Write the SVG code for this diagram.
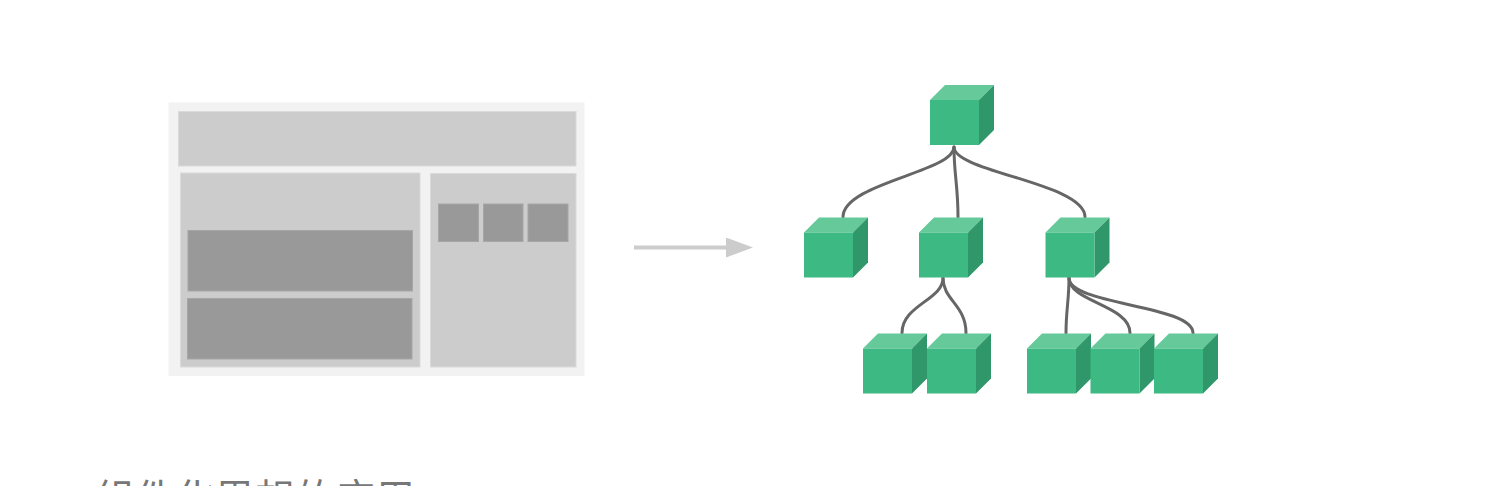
<svg xmlns="http://www.w3.org/2000/svg" width="1505" height="486" viewBox="0 0 1505 486">
<style>
.hdr{fill:#cccccc;stroke:#dadada;stroke-width:1}
.pnl{fill:#cccccc;stroke:#dadada;stroke-width:1}
.blk{fill:#999999;stroke:#a6a6a6;stroke-width:1}
.edge{fill:none;stroke:#666666;stroke-width:3;stroke-linecap:round}
.front{fill:#3dba83}
.top{fill:#65c99a}
.side{fill:#2f976a}
.cap{font-family:"Noto Sans CJK SC","Noto Sans",sans-serif;font-size:40px;fill:#777777}
</style>
<defs>
<g id="cube">
<polygon class="top" points="0,0 15,-15 64,-15 49,0"/>
<polygon class="side" points="49,0 64,-15 64,30 49,45"/>
<rect class="front" x="0" y="0" width="49" height="45"/>
</g>
<marker id="arr" markerUnits="userSpaceOnUse" markerWidth="28" markerHeight="22" refX="0" refY="10" orient="auto">
<polygon points="0,0 27,10 0,20" fill="#cccccc"/>
</marker>
</defs>
<rect width="1505" height="486" fill="#ffffff"/>
<g id="page">
<rect x="168.5" y="102.5" width="416" height="273.5" fill="#f2f2f2"/>
<rect class="hdr" x="178.5" y="111.5" width="397.5" height="54.5"/>
<rect class="pnl" x="180.5" y="173" width="239.5" height="194"/>
<rect class="pnl" x="430.5" y="173.5" width="145.5" height="193.5"/>
<rect class="blk" x="188" y="230.5" width="224.5" height="60.5"/>
<rect class="blk" x="187.5" y="298.5" width="224.5" height="60.5"/>
<rect class="blk" x="438.5" y="204" width="40" height="37.5"/>
<rect class="blk" x="483.5" y="204" width="39.5" height="37.5"/>
<rect class="blk" x="528" y="204" width="40" height="37.5"/>
</g>
<g id="arrow">
<line x1="634" y1="247.5" x2="726" y2="247.5" stroke="#cccccc" stroke-width="4" marker-end="url(#arr)"/>
</g>
<g id="connectors">
<path class="edge" d="M954,147 C954,172 843,183 843,217"/>
<path class="edge" d="M954,147 C954,175 958,185 958,217"/>
<path class="edge" d="M954,147 C954,172 1085,183 1085,217"/>
<path class="edge" d="M943,278 C943,300 902,305 902,333"/>
<path class="edge" d="M943,278 C943,300 966,305 966,333"/>
<path class="edge" d="M1069,278 C1069,300 1066,310 1066,333"/>
<path class="edge" d="M1069,278 C1069,302 1130,305 1130,333"/>
<path class="edge" d="M1069,278 C1069,305 1193,305 1193,333"/>
</g>
<g id="root"><use href="#cube" x="930" y="100"/></g>
<g id="c1"><use href="#cube" x="804" y="232.5"/></g>
<g id="c2"><use href="#cube" x="919" y="232.5"/></g>
<g id="c3"><use href="#cube" x="1045.5" y="232.5"/></g>
<g id="c21"><use href="#cube" x="863" y="348.5"/></g>
<g id="c22"><use href="#cube" x="927" y="348.5"/></g>
<g id="c31"><use href="#cube" x="1027" y="348.5"/></g>
<g id="c32"><use href="#cube" x="1090.5" y="348.5"/></g>
<g id="c33"><use href="#cube" x="1154" y="348.5"/></g>
<text class="cap" x="95" y="513">组件化思想的应用</text>
</svg>
